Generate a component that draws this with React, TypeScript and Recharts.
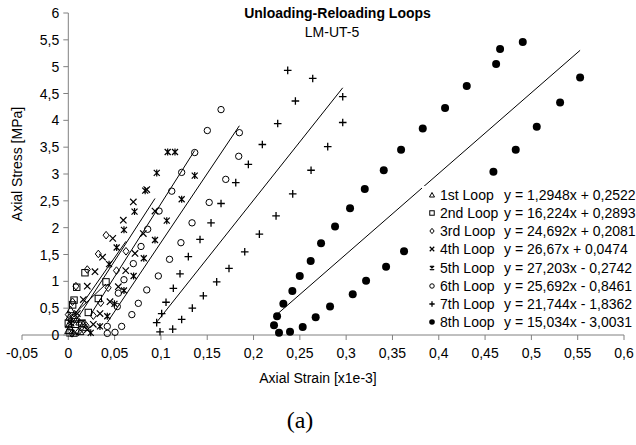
import { ScatterChart, Scatter, XAxis, YAxis, ReferenceLine } from "recharts";

const loopNames = ["1st Loop", "2nd Loop", "3rd Loop", "4th Loop", "5th Loop", "6th Loop", "7th Loop", "8th Loop"];
const slopes = [1.2948, 16.224, 24.692, 26.67, 27.203, 25.692, 21.744, 15.034];
const intercepts = [0.2522, 0.2893, 0.2081, 0.0474, -0.2742, -0.8461, -1.8362, -3.0031];

const loop1 = [
  { x: 0, y: 0.08 }, { x: 0.0005, y: 0.19 }, { x: 0.001, y: 0.33 }, { x: 0.0025, y: 0.47 },
  { x: 0.006, y: 0.36 }, { x: 0.009, y: 0.29 }, { x: 0.012, y: 0.24 }, { x: 0.016, y: 0.2 },
  { x: 0.019, y: 0.14 }, { x: 0.013, y: 0.06 }, { x: 0.006, y: 0.03 },
];
const loop2 = [
  { x: 0, y: 0.22 }, { x: 0.0047, y: 0.56 }, { x: 0.0062, y: 0.65 }, { x: 0.0091, y: 0.89 },
  { x: 0.018, y: 1.16 }, { x: 0.0407, y: 0.99 }, { x: 0.0324, y: 0.68 }, { x: 0.0216, y: 0.42 },
  { x: 0.0145, y: 0.22 }, { x: 0.008, y: 0.08 }, { x: 0.0018, y: 0.04 },
];
const loop3 = [
  { x: 0, y: 0.38 }, { x: 0.0045, y: 0.62 }, { x: 0.0082, y: 0.91 }, { x: 0.0205, y: 1.22 },
  { x: 0.0324, y: 1.51 }, { x: 0.0408, y: 1.86 }, { x: 0.0623, y: 1.56 }, { x: 0.052, y: 1.2 },
  { x: 0.043, y: 0.88 }, { x: 0.035, y: 0.6 }, { x: 0.027, y: 0.36 }, { x: 0.019, y: 0.18 },
  { x: 0.011, y: 0.06 }, { x: 0.004, y: 0.03 },
];
const loop4 = [
  { x: 0.003, y: 0.22 }, { x: 0.0097, y: 0.4 }, { x: 0.0162, y: 0.66 }, { x: 0.0205, y: 0.91 },
  { x: 0.0288, y: 1.18 }, { x: 0.037, y: 1.45 }, { x: 0.048, y: 1.8 }, { x: 0.0594, y: 2.14 },
  { x: 0.0702, y: 2.48 }, { x: 0.0847, y: 2.71 }, { x: 0.0936, y: 2.31 }, { x: 0.081, y: 1.89 },
  { x: 0.072, y: 1.52 }, { x: 0.062, y: 1.2 }, { x: 0.054, y: 0.9 }, { x: 0.045, y: 0.62 },
  { x: 0.0342, y: 0.4 }, { x: 0.027, y: 0.2 }, { x: 0.0205, y: 0.1 },
];
const loop5 = [
  { x: 0.044, y: 1.32 }, { x: 0.0522, y: 1.63 }, { x: 0.0601, y: 1.96 }, { x: 0.0715, y: 2.3 },
  { x: 0.083, y: 2.69 }, { x: 0.0955, y: 3.02 }, { x: 0.1073, y: 3.41 }, { x: 0.1152, y: 3.41 },
  { x: 0.1365, y: 2.97 }, { x: 0.1224, y: 2.53 }, { x: 0.1063, y: 2.13 }, { x: 0.0936, y: 1.77 },
  { x: 0.0815, y: 1.43 }, { x: 0.0705, y: 1.1 }, { x: 0.0601, y: 0.83 }, { x: 0.0498, y: 0.58 },
  { x: 0.0421, y: 0.35 }, { x: 0.0342, y: 0.16 }, { x: 0.0242, y: 0.04 },
];
const loop6 = [
  { x: 0.0421, y: 0.16 }, { x: 0.0529, y: 0.53 }, { x: 0.054, y: 0.78 }, { x: 0.0601, y: 1.03 },
  { x: 0.0702, y: 1.33 }, { x: 0.0785, y: 1.65 }, { x: 0.0857, y: 1.97 }, { x: 0.098, y: 2.31 },
  { x: 0.1117, y: 2.68 }, { x: 0.1224, y: 3.03 }, { x: 0.1365, y: 3.4 }, { x: 0.1501, y: 3.81 },
  { x: 0.1649, y: 4.2 }, { x: 0.1847, y: 3.77 }, { x: 0.184, y: 3.33 }, { x: 0.17, y: 2.9 },
  { x: 0.1521, y: 2.47 }, { x: 0.1336, y: 2.09 }, { x: 0.1216, y: 1.72 }, { x: 0.1093, y: 1.41 },
  { x: 0.0972, y: 1.1 }, { x: 0.0847, y: 0.84 }, { x: 0.0756, y: 0.59 }, { x: 0.0686, y: 0.38 },
  { x: 0.0576, y: 0.16 }, { x: 0.0504, y: 0.05 }, { x: 0.0421, y: 0.03 },
];
const loop7 = [
  { x: 0.0954, y: 0.23 }, { x: 0.1008, y: 0.4 }, { x: 0.1055, y: 0.61 }, { x: 0.1134, y: 0.87 },
  { x: 0.1206, y: 1.14 }, { x: 0.1296, y: 1.46 }, { x: 0.1422, y: 1.78 }, { x: 0.1541, y: 2.09 },
  { x: 0.1649, y: 2.45 }, { x: 0.1808, y: 2.84 }, { x: 0.1944, y: 3.18 }, { x: 0.2095, y: 3.55 },
  { x: 0.2261, y: 3.94 }, { x: 0.2452, y: 4.36 }, { x: 0.2369, y: 4.93 }, { x: 0.2639, y: 4.78 },
  { x: 0.2963, y: 4.44 }, { x: 0.2963, y: 3.96 }, { x: 0.2801, y: 3.51 }, { x: 0.2621, y: 3.07 },
  { x: 0.2423, y: 2.63 }, { x: 0.2243, y: 2.22 }, { x: 0.2063, y: 1.88 }, { x: 0.1905, y: 1.55 },
  { x: 0.1735, y: 1.24 }, { x: 0.1602, y: 0.99 }, { x: 0.1458, y: 0.73 }, { x: 0.1339, y: 0.5 },
  { x: 0.1224, y: 0.29 }, { x: 0.1127, y: 0.11 }, { x: 0.099, y: 0.06 },
];
const loop8 = [
  { x: 0.2254, y: 0.35 }, { x: 0.2322, y: 0.58 }, { x: 0.2419, y: 0.82 }, { x: 0.2499, y: 1.1 },
  { x: 0.2617, y: 1.38 }, { x: 0.2729, y: 1.71 }, { x: 0.288, y: 2.02 }, { x: 0.3042, y: 2.36 },
  { x: 0.3201, y: 2.72 }, { x: 0.3406, y: 3.07 }, { x: 0.3593, y: 3.45 }, { x: 0.3827, y: 3.85 },
  { x: 0.4068, y: 4.23 }, { x: 0.4302, y: 4.64 }, { x: 0.4619, y: 5.05 }, { x: 0.4662, y: 5.33 },
  { x: 0.4907, y: 5.46 }, { x: 0.5526, y: 4.8 }, { x: 0.531, y: 4.33 }, { x: 0.5058, y: 3.88 },
  { x: 0.4831, y: 3.45 }, { x: 0.459, y: 3.04 }, { x: 0.3625, y: 1.56 }, { x: 0.3431, y: 1.27 },
  { x: 0.3215, y: 1.01 }, { x: 0.3071, y: 0.76 }, { x: 0.2826, y: 0.53 }, { x: 0.2671, y: 0.33 },
  { x: 0.2531, y: 0.15 }, { x: 0.2394, y: 0.06 }, { x: 0.2275, y: 0.04 }, { x: 0.2221, y: 0.18 },
];

const loops = [loop1, loop2, loop3, loop4, loop5, loop6, loop7, loop8];
const markers = ["tri", "square", "diamond", "cross", "star", "circle", "plus", "dot"];

const xTicks = [-0.05, 0, 0.05, 0.1, 0.15, 0.2, 0.25, 0.3, 0.35, 0.4, 0.45, 0.5, 0.55, 0.6];
const yTicks = [0, 0.5, 1, 1.5, 2, 2.5, 3, 3.5, 4, 4.5, 5, 5.5, 6];

const W = 636;
const H = 445;
const Y_AXIS_W = 1;
const margin = { top: 13, right: 12, bottom: 80, left: 21 };
const xDomain = [-0.05, 0.6];
const plotLeft = margin.left + Y_AXIS_W;
const plotW = W - plotLeft - margin.right;
// the value axis crosses at x = 0, not at the left edge of the plot
const axisX = plotLeft + (plotW * (0 - xDomain[0])) / (xDomain[1] - xDomain[0]);

const font = '"Liberation Sans", Arial, sans-serif';
const grey = "#808080";

const fmt = (v: number) => String(v).replace(".", ",");

function Mark({ kind, cx, cy, s = 1 }: { kind: string; cx: number; cy: number; s?: number }) {
  const p = { fill: "none", stroke: "#000", strokeWidth: 1 };
  if (kind === "tri") {
    const r = 3.6 * s;
    return <polygon points={`${cx},${cy - r} ${cx - r},${cy + r * 0.8} ${cx + r},${cy + r * 0.8}`} {...p} />;
  }
  if (kind === "square") {
    const r = 3.2 * s;
    return <rect x={cx - r} y={cy - r} width={2 * r} height={2 * r} {...p} />;
  }
  if (kind === "diamond") {
    const r = 3.8 * s;
    return <polygon points={`${cx},${cy - r} ${cx + r * 0.8},${cy} ${cx},${cy + r} ${cx - r * 0.8},${cy}`} {...p} />;
  }
  if (kind === "cross") {
    const r = 3.2 * s;
    return (
      <path d={`M${cx - r},${cy - r}L${cx + r},${cy + r}M${cx - r},${cy + r}L${cx + r},${cy - r}`} {...p} strokeWidth={1.2} />
    );
  }
  if (kind === "star") {
    const r = 3 * s;
    return (
      <path
        d={`M${cx - r},${cy - r}L${cx + r},${cy + r}M${cx - r},${cy + r}L${cx + r},${cy - r}M${cx},${cy - r - 0.5}L${cx},${cy + r + 0.5}`}
        {...p}
        strokeWidth={1.2}
      />
    );
  }
  if (kind === "circle") {
    return <circle cx={cx} cy={cy} r={3.2 * s} {...p} />;
  }
  if (kind === "plus") {
    const r = 3.8 * s;
    return <path d={`M${cx - r},${cy}L${cx + r},${cy}M${cx},${cy - r}L${cx},${cy + r}`} {...p} strokeWidth={1.3} />;
  }
  return <circle cx={cx} cy={cy} r={4 * s} fill="#000" />;
}

const renderYTick = (props: any) => {
  const { y, payload } = props;
  return (
    <g key={`yt-${payload.value}`}>
      <line x1={axisX - 5} x2={axisX} y1={y} y2={y} stroke={grey} />
      <text x={axisX - 9} y={y} dy="0.36em" textAnchor="end" fontSize={14} fill="#000" fontFamily={font}>
        {fmt(payload.value)}
      </text>
    </g>
  );
};

const centered = (x: number, y: number, extra: any = {}) => ({
  position: "absolute" as const,
  left: x,
  top: y,
  transform: "translate(-50%, -50%)",
  whiteSpace: "nowrap" as const,
  lineHeight: 1,
  ...extra,
});

export default function App() {
  const trends = loops.map((data, i) => {
    const xs = data.map((d) => d.x);
    const x1 = Math.min(...xs);
    const x2 = Math.max(...xs);
    return [
      { x: x1, y: slopes[i] * x1 + intercepts[i] },
      { x: x2, y: slopes[i] * x2 + intercepts[i] },
    ];
  });

  return (
    <div
      style={{
        position: "absolute",
        left: 0,
        top: 0,
        width: W,
        height: H,
        overflow: "hidden",
        background: "#fff",
        fontFamily: font,
        fontSize: 14,
        color: "#000",
      }}
    >
      <ScatterChart width={W} height={H} margin={margin}>
        <XAxis
          type="number"
          dataKey="x"
          domain={xDomain}
          ticks={xTicks}
          tickFormatter={fmt}
          allowDataOverflow
          height={30}
          stroke={grey}
          tickSize={5}
          tickMargin={8}
          tick={{ fill: "#000", fontSize: 14, fontFamily: font }}
          interval={0}
        />
        <YAxis
          type="number"
          dataKey="y"
          domain={[0, 6]}
          ticks={yTicks}
          width={Y_AXIS_W}
          axisLine={false}
          tickLine={false}
          tick={renderYTick}
          interval={0}
        />
        <ReferenceLine x={0} stroke={grey} />
        {loops.map((data, i) => (
          <Scatter
            key={loopNames[i]}
            name={loopNames[i]}
            data={data}
            isAnimationActive={false}
            shape={(props: any) => <Mark kind={markers[i]} cx={props.cx} cy={props.cy} />}
          />
        ))}
        {trends.map((seg, i) => (
          <ReferenceLine key={`trend-${i}`} segment={seg} stroke="#000" strokeWidth={1} ifOverflow="visible" />
        ))}
      </ScatterChart>

      <div style={centered(337.5, 13, { fontWeight: "bold" })}>Unloading-Reloading Loops</div>
      <div style={centered(332, 32)}>LM-UT-5</div>
      <div style={centered(17, 164, { transform: "translate(-50%, -50%) rotate(-90deg)" })}>Axial Stress [MPa]</div>
      <div style={centered(318, 378)}>Axial Strain [x1e-3]</div>
      <div style={centered(300, 420, { fontFamily: '"Liberation Serif", "Times New Roman", serif', fontSize: 24 })}>(a)</div>

      <div style={{ position: "absolute", left: 422, top: 186, width: 214, height: 146, background: "#fff" }}>
        {loopNames.map((name, i) => {
          const cy = 9 + i * 18.14;
          const b = intercepts[i];
          const eq = `y = ${fmt(slopes[i])}x ${b < 0 ? "-" : "+"} ${fmt(Math.abs(b))}`;
          return (
            <div key={name}>
              <svg width={10} height={10} style={{ position: "absolute", left: 5, top: cy - 5 }}>
                <Mark kind={markers[i]} cx={5} cy={5} s={0.7} />
              </svg>
              <div style={{ position: "absolute", left: 18, top: cy - 7, lineHeight: "14px", whiteSpace: "nowrap" }}>{name}</div>
              <div style={{ position: "absolute", left: 82, top: cy - 7, lineHeight: "14px", whiteSpace: "nowrap" }}>{eq}</div>
            </div>
          );
        })}
      </div>
    </div>
  );
}
